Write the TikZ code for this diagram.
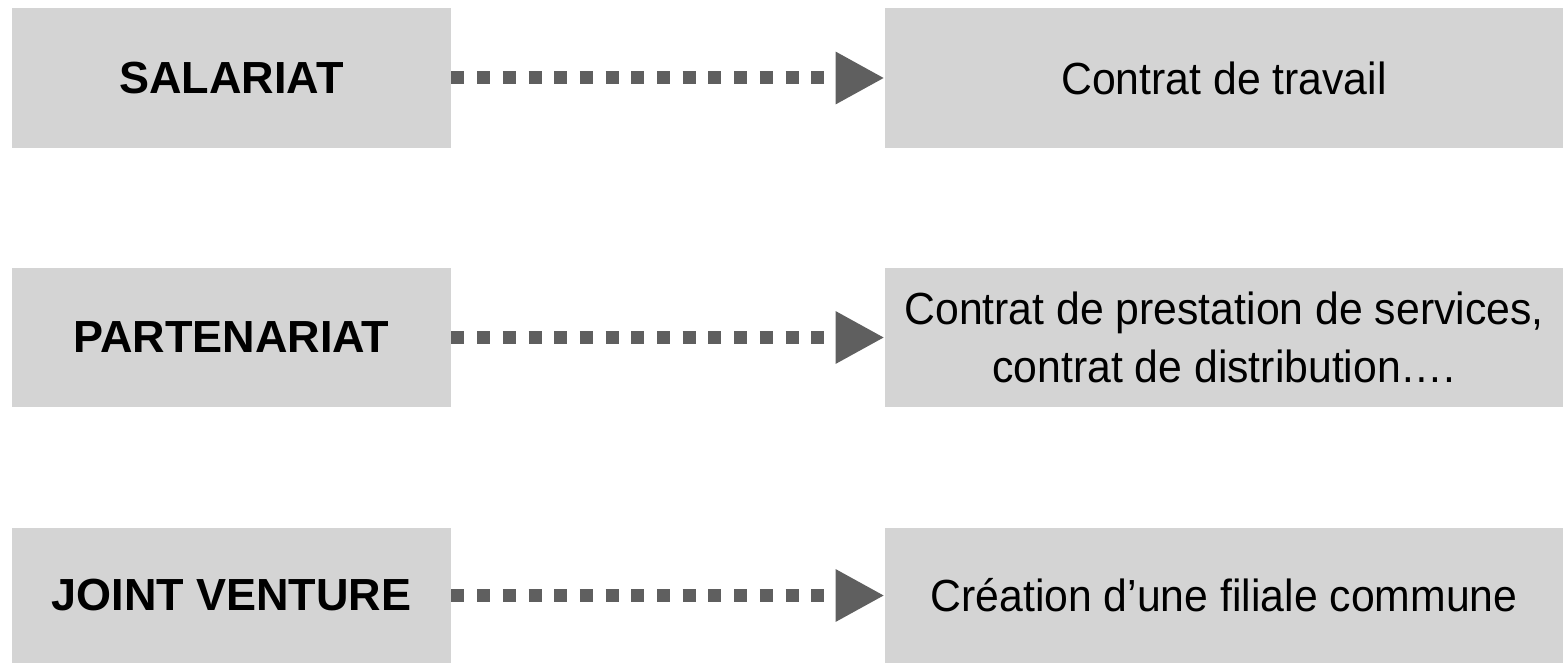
\documentclass[tikz,border=0pt]{standalone}
\usepackage{fontspec}
\setmainfont{Liberation Sans}
\newfontfamily\boxfont[FakeStretch=0.95]{Liberation Sans}
\usetikzlibrary{arrows.meta}

\definecolor{boxgray}{HTML}{D4D4D4}
\definecolor{arrowgray}{HTML}{5F5F5F}

\tikzset{
  leftbox/.style={fill=boxgray, inner sep=0pt, minimum width=219.5pt,
    font=\fontsize{22.5}{27}\selectfont\bfseries},
  rightbox/.style={fill=boxgray, inner sep=0pt, minimum width=339pt,
    align=center, font=\boxfont\fontsize{22.5}{29}\selectfont},
  dotarrow/.style={draw=arrowgray, line width=6.5pt,
    dash pattern=on 6.5pt off 6.35pt,
    -{Triangle[length=24.5pt,width=24.5pt]}}
}

\begin{document}
\begin{tikzpicture}[x=0.5pt, y=-0.5pt]
\useasboundingbox (0,0) rectangle (1563,663);

% Left column
\node[leftbox, minimum height=70pt] (salariat) at (231.5,78) {SALARIAT};
\node[leftbox, minimum height=69.5pt] (partenariat) at (231.5,337.5) {PARTENARIAT};
\node[leftbox, minimum height=67.5pt] (jointventure) at (231.5,595.5) {JOINT VENTURE};

% Right column
\node[rightbox, minimum height=70pt] (travail) at (1224,78) {Contrat de travail};
\node[rightbox, minimum height=69.5pt] (prestation) at (1224,337.5)
  {Contrat de prestation de services,\\ contrat de distribution….};
\node[rightbox, minimum height=67.5pt] (filiale) at (1224,595.5) {Création d’une filiale commune};

% Arrows
\draw[dotarrow] (salariat.east) -- (travail.west);
\draw[dotarrow] (partenariat.east) -- (prestation.west);
\draw[dotarrow] (jointventure.east) -- (filiale.west);
\end{tikzpicture}
\end{document}
